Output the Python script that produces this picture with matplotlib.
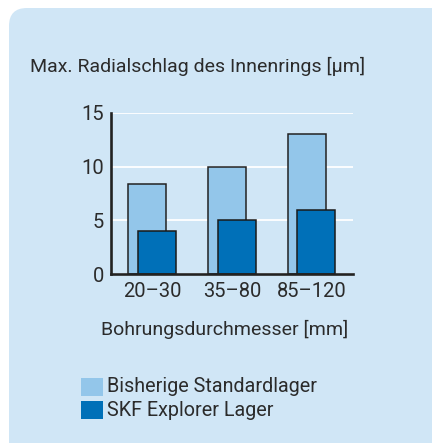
import matplotlib
matplotlib.use('Agg')
import matplotlib.pyplot as plt
from matplotlib.patches import FancyBboxPatch, Rectangle
import numpy as np

categories = ['20–30', '35–80', '85–120']
standard = [8.35, 10.0, 13.0]
explorer = [4.0, 5.0, 6.0]
series_names = ['Bisherige Standardlager', 'SKF Explorer Lager']
yticks = [0, 5, 10, 15]

panel_col = '#d0e6f6'
light_col = '#93c6ea'
dark_col = '#0070b8'
text_col = '#2b2b2b'

plt.rcParams['font.family'] = ['Roboto', 'DejaVu Sans']

W, H = 432, 443
fig = plt.figure(figsize=(W / 100, H / 100), dpi=100)
fig.patch.set_facecolor('white')

# background panel in pixel coords
bg = fig.add_axes([0, 0, 1, 1])
bg.set_xlim(0, W)
bg.set_ylim(H, 0)
bg.axis('off')
bg.add_patch(FancyBboxPatch((9, 8), 460, 460, boxstyle='round,pad=0,rounding_size=18',
                            fc=panel_col, ec='none'))

bg.text(30, 66, 'Max. Radialschlag des Innenrings [µm]', fontsize=14,
        color=text_col, va='center', ha='left')
bg.text(225, 329, 'Bohrungsdurchmesser [mm]', fontsize=14,
        color=text_col, va='center', ha='center')

# legend
for i, (name, col) in enumerate(zip(series_names, [light_col, dark_col])):
    y0 = 378 + i * 23
    bg.add_patch(Rectangle((81, y0), 22, 18, fc=col, ec='none'))
    bg.text(107, y0 + 9, name, fontsize=14.2, color=text_col, va='center', ha='left')

ax = fig.add_axes([110.7 / W, 1 - 274 / H, (353 - 110.7) / W, (274 - 113) / H])
ax.set_facecolor('none')
x = np.arange(len(categories))
w = 0.477
off = 0.06
ax.set_axisbelow(True)
ax.grid(axis='y', color='white', lw=1.3)
ax.bar(x - off, standard, w, color=light_col, edgecolor='#222222', lw=1.1, zorder=2)
ax.bar(x + off, explorer, w, color=dark_col, edgecolor='#1a1a1a', lw=1.1, zorder=3)

ax.set_xlim(-0.52, 2.52)
ax.set_ylim(0, 15)
ax.set_yticks(yticks)
ax.set_xticks(x)
ax.set_xticklabels(categories)
ax.tick_params(axis='x', length=0, labelsize=14.5, labelcolor=text_col, pad=6)
ax.tick_params(axis='y', length=0, labelsize=14.5, labelcolor=text_col, pad=5)
ax.set_yticks([0, 15], minor=True)
ax.tick_params(axis='y', which='minor', length=3, width=1.8, color='#222222')
for s in ['top', 'right']:
    ax.spines[s].set_visible(False)
for s in ['left', 'bottom']:
    ax.spines[s].set_linewidth(1.9)
    ax.spines[s].set_color('#222222')
    ax.spines[s].set_zorder(5)

fig.savefig('out.png', dpi=100)
